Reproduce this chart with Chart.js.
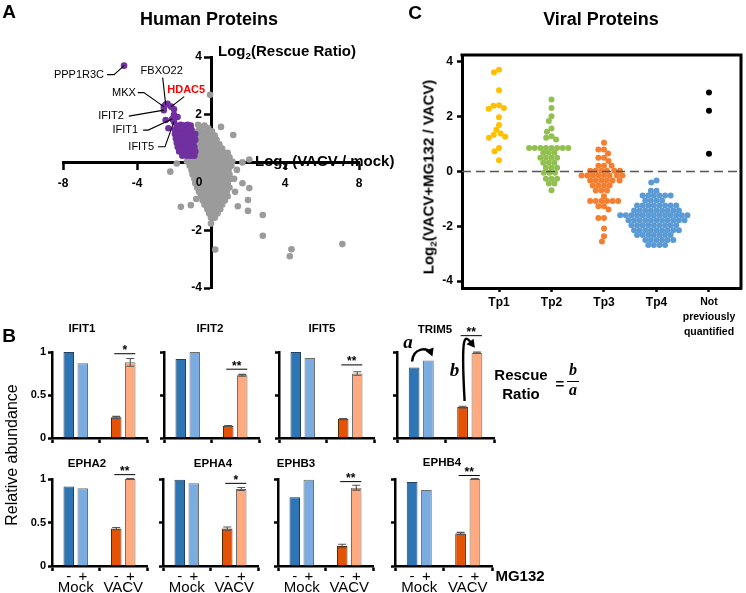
<!DOCTYPE html>
<html><head><meta charset="utf-8">
<script src="https://cdn.jsdelivr.net/npm/chart.js@4/dist/chart.umd.min.js"></script>
<style>
html,body{margin:0;padding:0;background:#fff;}
body{width:746px;height:593px;position:relative;overflow:hidden;font-family:"Liberation Sans",Arial,sans-serif;color:#000;}
canvas{position:absolute;}
.t{position:absolute;white-space:nowrap;transform:translate(-50%,-50%);line-height:1;z-index:2;}
.l{position:absolute;white-space:nowrap;transform:translate(0,-50%);line-height:1;z-index:2;}
.b{font-weight:bold;}
.it{font-family:"Liberation Serif","Times New Roman",serif;font-style:italic;font-weight:bold;}
sub{font-size:66%;vertical-align:-0.32em;line-height:0;}
</style></head><body>
<div class="t b" style="left:9px;top:11px;font-size:19px">A</div>
<div class="t b" style="left:9px;top:335px;font-size:19px">B</div>
<div class="t b" style="left:415px;top:12px;font-size:19px">C</div>
<div class="t b" style="left:209px;top:19px;font-size:18px">Human Proteins</div>
<div class="t b" style="left:601px;top:19px;font-size:18px">Viral Proteins</div>
<div class="l b" style="left:218px;top:50px;font-size:15px">Log<sub>2</sub>(Rescue Ratio)</div>
<div class="l b" style="left:255px;top:160px;font-size:15px">Log<sub>2</sub> (VACV / mock)</div>
<div class="t b" style="left:428px;top:177px;font-size:15px;transform:translate(-50%,-50%) rotate(-90deg)">Log<sub>2</sub>(VACV+MG132 / VACV)</div>
<div class="t" style="left:12px;top:455px;font-size:16px;transform:translate(-50%,-50%) rotate(-90deg)">Relative abundance</div>
<div class="t b" style="left:521px;top:374px;font-size:15px">Rescue</div>
<div class="t b" style="left:521px;top:393px;font-size:15px">Ratio</div>
<div class="t b" style="left:560px;top:383px;font-size:15px">=</div>
<div class="t it" style="left:573px;top:370px;font-size:16px">b</div>
<div style="position:absolute;left:567px;top:381px;width:12px;height:1.3px;background:#000"></div>
<div class="t it" style="left:573px;top:390px;font-size:16px">a</div>
<div class="t b" style="left:520px;top:575px;font-size:15px">MG132</div>
<script>
// ---------------- DATA ----------------
// Panel A: human proteins [log2(VACV/mock), log2(rescue ratio)]
const humanRescued = [
 [-4.70,3.70],[-2.35,2.38],[-2.45,2.35],[-2.55,2.28],[-2.15,2.28],[-2.00,2.19],[-2.55,2.16],[-2.00,2.00],
 [-1.81,1.92],[-2.10,1.85],[-2.45,1.82],[-2.00,1.76],[-1.63,1.65],[-1.27,1.65],[-2.30,1.53],
 [-1.85,1.63],[-1.45,1.63],[-1.10,1.63],
 [-1.95,1.48],[-1.72,1.48],[-1.50,1.48],[-1.27,1.48],[-1.05,1.48],
 [-1.95,1.33],[-1.72,1.33],[-1.50,1.33],[-1.27,1.33],[-1.05,1.33],[-0.85,1.33],
 [-1.90,1.18],[-1.68,1.18],[-1.45,1.18],[-1.22,1.18],[-1.00,1.18],[-0.85,1.13],
 [-1.85,1.03],[-1.62,1.03],[-1.40,1.03],[-1.17,1.03],[-0.95,1.03],
 [-1.80,0.88],[-1.57,0.88],[-1.35,0.88],[-1.12,0.88],[-0.90,0.88],
 [-1.72,0.73],[-1.50,0.73],[-1.27,0.73],[-1.05,0.73],[-0.85,0.73],
 [-1.55,0.58],[-1.32,0.58],[-1.10,0.58],[-0.90,0.58]
];
const humanOther = [
 [-0.60,1.58],[-0.35,1.63],[-0.15,1.53],
 [-0.70,1.43],[-0.45,1.43],[-0.20,1.43],[0.05,1.43],
 [-0.75,1.28],[-0.50,1.28],[-0.25,1.28],[0.00,1.28],[0.20,1.28],
 [-0.70,1.13],[-0.45,1.13],[-0.20,1.13],[0.05,1.13],[0.30,1.13],
 [-0.80,0.98],[-0.55,0.98],[-0.30,0.98],[-0.05,0.98],[0.20,0.98],[0.45,0.98],
 [-0.90,0.83],[-0.65,0.83],[-0.40,0.83],[-0.15,0.83],[0.10,0.83],[0.35,0.83],[0.60,0.83],
 [-1.05,0.68],[-0.80,0.68],[-0.55,0.68],[-0.30,0.68],[-0.05,0.68],[0.20,0.68],[0.45,0.68],[0.70,0.68],[0.90,0.68],
 [-1.20,0.53],[-0.95,0.53],[-0.70,0.53],[-0.45,0.53],[-0.20,0.53],[0.05,0.53],[0.30,0.53],[0.55,0.53],[0.80,0.53],[1.00,0.53],
 [-1.30,0.38],[-1.05,0.38],[-0.80,0.38],[-0.55,0.38],[-0.30,0.38],[-0.05,0.38],[0.20,0.38],[0.45,0.38],[0.70,0.38],[0.95,0.38],[1.15,0.38],
 [-1.15,0.23],[-0.90,0.23],[-0.65,0.23],[-0.40,0.23],[-0.15,0.23],[0.10,0.23],[0.35,0.23],[0.60,0.23],[0.85,0.23],[1.10,0.23],
 [-1.05,0.08],[-0.80,0.08],[-0.55,0.08],[-0.30,0.08],[-0.05,0.08],[0.20,0.08],[0.45,0.08],[0.70,0.08],[0.95,0.08],
 [-1.00,-0.07],[-0.75,-0.07],[-0.50,-0.07],[-0.25,-0.07],[0.00,-0.07],[0.25,-0.07],[0.50,-0.07],[0.75,-0.07],[1.00,-0.07],
 [-0.90,-0.22],[-0.65,-0.22],[-0.40,-0.22],[-0.15,-0.22],[0.10,-0.22],[0.35,-0.22],[0.60,-0.22],[0.85,-0.22],[1.05,-0.22],
 [-0.85,-0.37],[-0.60,-0.37],[-0.35,-0.37],[-0.10,-0.37],[0.15,-0.37],[0.40,-0.37],[0.65,-0.37],[0.90,-0.37],
 [-0.75,-0.52],[-0.50,-0.52],[-0.25,-0.52],[0.00,-0.52],[0.25,-0.52],[0.50,-0.52],[0.75,-0.52],[1.00,-0.52],
 [-0.65,-0.67],[-0.40,-0.67],[-0.15,-0.67],[0.10,-0.67],[0.35,-0.67],[0.60,-0.67],[0.85,-0.67],
 [-0.55,-0.82],[-0.30,-0.82],[-0.05,-0.82],[0.20,-0.82],[0.45,-0.82],[0.70,-0.82],[0.90,-0.82],
 [-0.45,-0.97],[-0.20,-0.97],[0.05,-0.97],[0.30,-0.97],[0.55,-0.97],[0.75,-0.97],
 [-0.35,-1.12],[-0.10,-1.12],[0.15,-1.12],[0.40,-1.12],[0.60,-1.12],
 [-0.20,-1.27],[0.05,-1.27],[0.30,-1.27],[0.50,-1.27],
 [-0.10,-1.42],[0.15,-1.42],[0.35,-1.42],
 [0.00,-1.57],[0.20,-1.57],
 [-0.05,2.69],[-0.70,1.65],[0.54,1.58],[1.20,1.30],[2.07,0.45],[1.70,0.35],[1.40,0.09],[1.25,-0.22],
 [1.70,-0.37],[2.07,-0.54],[1.30,-0.67],[2.00,-0.95],[1.45,-1.17],[2.00,-1.33],[2.80,-1.47],[2.80,-2.19],
 [4.35,-2.66],[4.26,-2.90],[7.10,-2.48],[0.23,-2.67],[-1.63,-1.19],[-1.09,-1.13],[-2.20,0.03],[-1.85,0.31],
 [0.00,-1.77],[-0.80,-0.92]
];
const geneNames = ['PPP1R3C','FBXO22','MKX','HDAC5','IFIT2','IFIT1','IFIT5'];
const genePoints = [[-4.70,3.70],[-2.45,2.35],[-2.55,2.28],[-2.15,2.28],[-2.55,2.16],[-2.10,1.85],[-2.00,1.76]];
const humanXTicks = [-8,-4,0,4,8];
const humanYTicks = [-4,-2,2,4];

// Panel C: viral proteins, log2(VACV+MG132 / VACV)
const viralCategories = ['Tp1','Tp2','Tp3','Tp4',['Not','previously','quantified']];
const tp1 = [3.71,3.62,2.96,2.42,2.40,2.32,2.29,1.98,1.70,1.52,1.39,1.34,1.27,1.23,0.86,0.74,0.41];
const tp2 = [2.63,2.32,2.02,1.84,1.57,1.45,1.29,1.23,1.17,
  0.86,0.86,0.86,0.86,0.86,0.86,0.86,0.86,0.68,0.68,0.68,0.50,0.50,0.50,0.50,0.32,0.32,0.32,
  0.14,0.14,0.14,-0.05,-0.05,-0.05,-0.26,-0.26,-0.26,-0.44,-0.44,-0.68];
const tp3 = [1.05,0.80,0.80,0.66,0.50,0.50,0.38,0.21,0.21,0.21,
  0.03,0.03,0.03,0.03,0.03,0.03,-0.15,-0.15,-0.15,-0.15,-0.15,-0.15,-0.15,-0.15,
  -0.33,-0.33,-0.33,-0.33,-0.33,-0.33,-0.51,-0.51,-0.51,-0.51,-0.69,-0.69,-0.69,-0.90,
  -1.08,-1.08,-1.08,-1.08,-1.08,-1.08,-1.27,-1.27,-1.39,-1.70,-1.70,-2.08,-2.36,-2.55];
const tp4 = [-0.33,-0.40,-0.70,-0.70,-0.88,-0.88,-0.88,-0.88,-0.88,-0.88,-1.06,-1.06,-1.06,-1.06,
  -1.24,-1.24,-1.24,-1.24,-1.24,-1.24,-1.24,-1.24,-1.42,-1.42,-1.42,-1.42,-1.42,-1.42,-1.42,-1.42,-1.42,
  -1.60,-1.60,-1.60,-1.60,-1.60,-1.60,-1.60,-1.60,-1.60,-1.60,-1.60,-1.60,-1.60,
  -1.78,-1.78,-1.78,-1.78,-1.78,-1.78,-1.78,-1.78,-1.78,-1.78,-1.78,
  -1.96,-1.96,-1.96,-1.96,-1.96,-1.96,-1.96,-1.96,-1.96,-2.14,-2.14,-2.14,-2.14,-2.14,-2.14,-2.14,-2.14,-2.14,
  -2.32,-2.32,-2.32,-2.32,-2.32,-2.32,-2.32,-2.50,-2.50,-2.50,-2.50,-2.50,-2.50,-2.68,-2.68,-2.68,-2.68];
const notQuantified = [2.88,2.22,0.65];

// Panel B: relative abundance
const genes = ['IFIT1','IFIT2','IFIT5','TRIM5','EPHA2','EPHA4','EPHB3','EPHB4'];
const groupLabels = ['Mock','VACV'];
const treatLabels = ['-','+'];
const mockMinus = [1.00,0.92,1.00,0.82,0.915,0.99,0.79,0.965];
const mockPlus  = [0.87,1.00,0.93,0.90,0.895,0.95,0.99,0.875];
const vacvMinus = [0.24,0.14,0.22,0.36,0.43,0.43,0.23,0.375];
const vacvPlus  = [0.88,0.73,0.75,0.99,1.00,0.885,0.90,1.00];
const vacvMinusErr = [0.012,0.006,0.006,0.01,0.012,0.018,0.02,0.012];
const vacvPlusErr  = [0.045,0.01,0.02,0.008,0.004,0.018,0.028,0.004];
const sigMarks = ['*','**','**','**','**','*','**','**'];
const sigLevels = [0.98,0.80,0.85,1.19,1.05,0.95,0.97,1.04];

// ---------------- LAYOUT / STYLE ----------------
const FONT = '"Liberation Sans", Arial, sans-serif';
Chart.defaults.font.family = FONT;
Chart.defaults.color = '#000';
const humanAxisCross = 0.33; // the horizontal axis of panel A crosses the vertical one here
const labelLayout = [ // text offset from point (px), connector path offsets, align
 {tx:-20,ty:9,align:'right',path:[[-17,9],[-10,9]]},
 {tx:-4,ty:-34,align:'center',path:[[-3,-27]]},
 {tx:-28,ty:-14,align:'right',path:[[-26,-14],[-20,-14]]},
 {tx:15,ty:-17,align:'center',path:[[13,-10]],color:'#FF0000',bold:true},
 {tx:-40,ty:6,align:'right',path:[[-35,6]]},
 {tx:-34,ty:11,align:'right',path:[[-29,11],[-24,11]]},
 {tx:-20,ty:25,align:'right',path:[[-16,25],[-9,25]]}
];
const viralColors = ['#FFC000','#92C050','#F47F30','#5B9BD5','#000000'];
const bAxisX = [52,164,279,397,52,163,278,395];
const bAxisW = [95,95,95,97,95,95,95,97];
const bRowTop = [352,479], bRowBottom = [438,566];
const bTitlePos = [[82,329],[210,329],[322,329],[435,330],[87,464],[213,464],[296,464],[442,463]];

function mk(left, top, w, h) {
  const c = document.createElement('canvas');
  c.width = w; c.height = h;
  c.style.left = left + 'px'; c.style.top = top + 'px';
  c.style.width = w + 'px'; c.style.height = h + 'px';
  document.body.appendChild(c);
  return c;
}
const axisGrid = (tl) => ({drawOnChartArea:false, drawTicks:true, tickLength:tl, tickWidth:2.5, tickColor:'#000'});
const axisBorder = (w) => ({display:true, width:w, color:'#000'});
const baseOpts = {responsive:false, animation:false, events:[], plugins:{legend:{display:false}, tooltip:{enabled:false}}};

// ---------------- PANEL A ----------------
const geneLabelPlugin = {
  id:'geneLabels',
  afterDraw(chart) {
    const ctx = chart.ctx, xs = chart.scales.x, ys = chart.scales.y;
    ctx.save();
    genePoints.forEach((p, i) => {
      const L = labelLayout[i];
      const px = xs.getPixelForValue(p[0]), py = ys.getPixelForValue(p[1]);
      ctx.strokeStyle = '#000'; ctx.lineWidth = 1.1;
      ctx.beginPath();
      L.path.forEach((q, j) => { const X = px + q[0], Y = py + q[1]; if (j === 0) ctx.moveTo(X, Y); else ctx.lineTo(X, Y); });
      ctx.lineTo(px, py);
      ctx.stroke();
      ctx.font = (L.bold ? 'bold ' : '') + '11px ' + FONT;
      ctx.fillStyle = L.color || '#000';
      ctx.textAlign = L.align; ctx.textBaseline = 'middle';
      ctx.fillText(geneNames[i], px + L.tx, py + L.ty);
    });
    // origin label "0" of the horizontal axis, set left of the vertical axis
    ctx.font = 'bold 12px ' + FONT; ctx.fillStyle = '#000'; ctx.textAlign = 'center'; ctx.textBaseline = 'middle';
    ctx.fillText(String(humanXTicks[2]), xs.getPixelForValue(0) - 12, ys.getPixelForValue(humanAxisCross) + 20);
    ctx.restore();
  }
};
new Chart(mk(0,0,380,300), {
  type:'scatter',
  data:{datasets:[
    {data:humanRescued.map(([x,y]) => ({x,y})), backgroundColor:'#7030A0', pointRadius:3.3, borderWidth:0},
    {data:humanOther.map(([x,y]) => ({x,y})), backgroundColor:'#9B9B9B', pointRadius:3.3, borderWidth:0}
  ]},
  options:{...baseOpts,
    layout:{padding:{left:63,right:21,top:57,bottom:12}},
    scales:{
      x:{type:'linear', position:{y:humanAxisCross}, min:-8, max:8, z:1, afterFit:s => { s.height = 0; },
         afterBuildTicks:s => { s.ticks = humanXTicks.map(v => ({value:v})); },
         ticks:{maxRotation:0, padding:8, font:{size:12, weight:'bold'}, color:'#000',
                callback:v => v === 0 ? '' : String(v)},
         grid:axisGrid(6), border:axisBorder(3)},
      y:{type:'linear', position:{x:0}, min:-4, max:4, z:1, afterFit:s => { s.width = 0; },
         afterBuildTicks:s => { s.ticks = humanYTicks.map(v => ({value:v})); },
         ticks:{padding:2, font:{size:12, weight:'bold'}, color:'#000',
                callback:v => String(v) + '\u2007\u2009'},
         grid:axisGrid(6), border:axisBorder(3)}
    }
  },
  plugins:[geneLabelPlugin]
});

// ---------------- PANEL C ----------------
function swarmOffsets(pys, d) {
  const idx = pys.map((_, i) => i).sort((a, b) => pys[a] - pys[b]);
  const placed = [], out = new Array(pys.length).fill(0);
  for (const i of idx) {
    const y = pys[i];
    const cands = [0];
    for (const p of placed) {
      const dy = Math.abs(p.y - y);
      if (dy < d) { const dx = Math.sqrt(d*d - dy*dy); cands.push(p.x + dx, p.x - dx); }
    }
    cands.sort((a, b) => Math.abs(a) - Math.abs(b) || a - b);
    for (const c of cands) {
      let ok = true;
      for (const p of placed) { const dx = p.x - c, dy = p.y - y; if (dx*dx + dy*dy < d*d - 1e-6) { ok = false; break; } }
      if (ok) { out[i] = c; placed.push({x:c, y}); break; }
    }
  }
  return out;
}
const viralGroups = [tp1, tp2, tp3, tp4, notQuantified];
const framePlugin = {
  id:'frame',
  afterDatasetsDraw(chart) {
    const ctx = chart.ctx, a = chart.chartArea, ys = chart.scales.y;
    ctx.save();
    const y0 = ys.getPixelForValue(0);
    ctx.strokeStyle = '#555'; ctx.lineWidth = 1.6; ctx.setLineDash([9,5]);
    ctx.beginPath(); ctx.moveTo(a.left, y0); ctx.lineTo(a.right, y0); ctx.stroke();
    ctx.setLineDash([]);
    ctx.strokeStyle = '#000'; ctx.lineWidth = 3;
    ctx.beginPath(); ctx.moveTo(a.left - 1.5, a.top); ctx.lineTo(a.right, a.top); ctx.lineTo(a.right, a.bottom + 1.5); ctx.stroke();
    ctx.restore();
  }
};
const chartC = new Chart(mk(380,0,366,345), {
  type:'scatter',
  data:{datasets:viralGroups.map((vals, i) => ({
    data:vals.map(v => ({x:i, y:v})), backgroundColor:viralColors[i], pointRadius:3, borderWidth:0
  }))},
  options:{...baseOpts,
    layout:{padding:{left:0,right:5,top:55,bottom:0}},
    scales:{
      x:{type:'linear', min:-0.705, max:4.61, afterFit:s => { s.height = 57; },
         ticks:{stepSize:1, includeBounds:false, autoSkip:false, maxRotation:0, padding:3, color:'#000',
                font:ctx => (ctx.tick && ctx.tick.value === 4) ? {size:10.5, weight:'bold', lineHeight:1.4} : {size:12, weight:'bold'},
                callback:v => viralCategories[v]},
         grid:axisGrid(4), border:axisBorder(3)},
      y:{type:'linear', min:-4.25, max:4.25, afterFit:s => { s.width = 82; },
         ticks:{stepSize:2, includeBounds:false, padding:4, font:{size:12, weight:'bold'}, color:'#000'},
         grid:axisGrid(5), border:axisBorder(3)}
    }
  },
  plugins:[framePlugin]
});
(function () {
  const xs = chartC.scales.x, ys = chartC.scales.y;
  const ppu = xs.getPixelForValue(1) - xs.getPixelForValue(0);
  chartC.data.datasets.forEach((ds, i) => {
    const offs = swarmOffsets(viralGroups[i].map(v => ys.getPixelForValue(v)), 5.6);
    ds.data = viralGroups[i].map((v, k) => ({x:i + offs[k] / ppu, y:v}));
  });
  chartC.update('none');
})();

// ---------------- PANEL B ----------------
function arrowHead(ctx, fromX, fromY, tipX, tipY, len, half) {
  const dx = tipX - fromX, dy = tipY - fromY, m = Math.hypot(dx, dy), ux = dx/m, uy = dy/m;
  const bx = tipX - ux*len, by = tipY - uy*len;
  ctx.beginPath(); ctx.moveTo(tipX, tipY);
  ctx.lineTo(bx - uy*half, by + ux*half); ctx.lineTo(bx + uy*half, by - ux*half); ctx.closePath(); ctx.fill();
}
function barPlugin(k, showTreat) {
  return {
    id:'barDeco' + k,
    afterDatasetsDraw(chart) {
      const ctx = chart.ctx, ys = chart.scales.y;
      const m0 = chart.getDatasetMeta(0).data, m1 = chart.getDatasetMeta(1).data;
      ctx.save();
      [[m0[1], vacvMinus[k], vacvMinusErr[k]], [m1[1], vacvPlus[k], vacvPlusErr[k]]].forEach(([b, v, e]) => {
        const yt = ys.getPixelForValue(v + e), yb = ys.getPixelForValue(v - e);
        ctx.strokeStyle = '#555'; ctx.lineWidth = 1.1;
        ctx.beginPath();
        ctx.moveTo(b.x, yt); ctx.lineTo(b.x, yb);
        ctx.moveTo(b.x - 4, yt); ctx.lineTo(b.x + 4, yt);
        ctx.moveTo(b.x - 4, yb); ctx.lineTo(b.x + 4, yb);
        ctx.stroke();
      });
      const ys1 = ys.getPixelForValue(sigLevels[k]);
      const x1 = m0[1].x - 2, x2 = m1[1].x + 5;
      ctx.strokeStyle = '#000'; ctx.lineWidth = 1;
      ctx.beginPath(); ctx.moveTo(x1, ys1); ctx.lineTo(x2, ys1); ctx.stroke();
      ctx.fillStyle = '#000'; ctx.font = 'bold 12px ' + FONT; ctx.textAlign = 'center'; ctx.textBaseline = 'alphabetic';
      ctx.fillText(sigMarks[k], (x1 + x2) / 2, ys1 + 0.5);
      if (showTreat) {
        ctx.font = '15px ' + FONT; ctx.textBaseline = 'middle';
        const yb = chart.chartArea.bottom + 11;
        [m0[0], m1[0], m0[1], m1[1]].forEach((b, j) => ctx.fillText(treatLabels[j % 2], b.x, yb));
      }
      if (genes[k] === 'TRIM5') {
        const a0 = m0[0], a1 = m1[0], b0 = m0[1], b1 = m1[1];
        ctx.strokeStyle = '#000'; ctx.lineWidth = 2.4; ctx.fillStyle = '#000';
        let c2x = a1.x, c2y = a1.y - 14, ex = a1.x + 4, ey = a1.y - 4;
        ctx.beginPath(); ctx.moveTo(a0.x - 2, a0.y - 6);
        ctx.bezierCurveTo(a0.x - 1, a0.y - 20, c2x, c2y, ex - 1, ey - 3); ctx.stroke();
        arrowHead(ctx, c2x, c2y, ex, ey, 8, 4.5);
        c2x = b1.x - 12; c2y = b1.y - 18; ex = b1.x - 2; ey = b1.y - 5;
        ctx.beginPath(); ctx.moveTo(b0.x + 2, b0.y - 6);
        ctx.bezierCurveTo(b0.x - 2, b1.y - 25, c2x, c2y, ex - 2, ey - 3); ctx.stroke();
        arrowHead(ctx, c2x, c2y, ex, ey, 8, 4.5);
        ctx.font = 'italic bold 19px "Liberation Serif", "Times New Roman", serif';
        ctx.textBaseline = 'middle'; ctx.textAlign = 'center';
        ctx.fillText('a', a0.x - 6, a0.y - 24);
        ctx.fillText('b', b0.x - 8, b0.y - 36);
      }
      ctx.restore();
    }
  };
}
genes.forEach((g, k) => {
  const r = k < 4 ? 0 : 1, c = k % 4;
  const top = bRowTop[r], bot = bRowBottom[r];
  const w = bAxisW[k];
  const cv = mk(bAxisX[k] - 52, top - 40, 52 + w + 12, (bot - top) + 40 + 34);
  new Chart(cv, {
    type:'bar',
    data:{labels:groupLabels, datasets:[
      {data:[mockMinus[k], vacvMinus[k]], backgroundColor:['#2E75B6','#E35205'], borderColor:['#23405e','#5a2a08'], borderWidth:1},
      {data:[mockPlus[k], vacvPlus[k]], backgroundColor:['#7AACE0','#FFAA7F'], borderColor:['#707070','#707070'], borderWidth:1}
    ]},
    options:{...baseOpts,
      layout:{padding:{left:0,right:12,top:40,bottom:0}},
      datasets:{bar:{categoryPercentage:0.59, barPercentage:0.75}},
      scales:{
        x:{afterFit:s => { s.height = 34; },
           ticks:{display:r === 1, padding:8, font:{size:15}, color:'#000', maxRotation:0},
           grid:{...axisGrid(5), offset:true}, border:axisBorder(2.5)},
        y:{min:0, max:1, afterFit:s => { s.width = 52; },
           ticks:{display:c === 0, stepSize:0.5, padding:2, font:{size:11, weight:'bold'}, color:'#000', callback:v => String(v)},
           grid:axisGrid(4), border:axisBorder(2.5)}
      }
    },
    plugins:[barPlugin(k, r === 1)]
  });
  const d = document.createElement('div');
  d.className = 't b'; d.style.left = bTitlePos[k][0] + 'px'; d.style.top = bTitlePos[k][1] + 'px'; d.style.fontSize = '11.5px';
  d.textContent = g;
  document.body.appendChild(d);
});
</script>
</body></html>
